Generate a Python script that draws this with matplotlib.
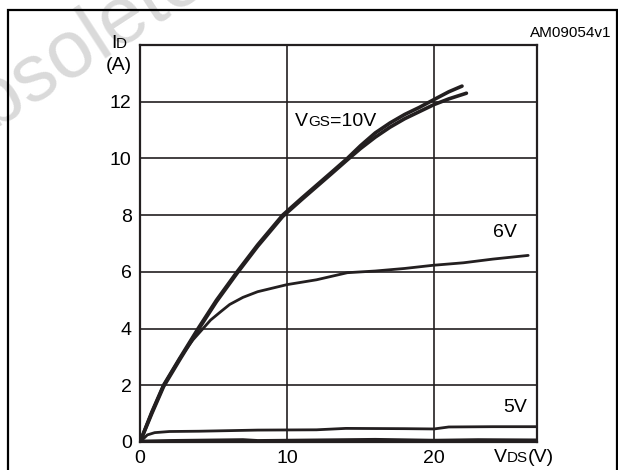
import matplotlib
matplotlib.use('Agg')
import matplotlib.pyplot as plt
import matplotlib.patches as patches
from matplotlib.offsetbox import TextArea, HPacker, AnnotationBbox

plt.rcParams['font.family'] = ['Liberation Sans', 'DejaVu Sans']

# Кривые выходной характеристики (VDS, ID)
vds_10a = [0, 0.8, 1.6, 2.7, 3.95, 5.2, 6.6, 8.0, 9.7, 11.0, 12.0, 13.0, 14.1, 15.0, 16.0,
           17.0, 18.0, 19.0, 19.9, 21.0, 21.9]
id_10a = [0, 1.05, 2.0, 2.95, 4.0, 5.0, 6.0, 6.95, 8.0, 8.6, 9.05, 9.5, 10.0, 10.45, 10.9,
          11.25, 11.55, 11.8, 12.05, 12.35, 12.55]
vds_10b = [0, 0.8, 1.6, 2.7, 3.95, 5.2, 6.6, 8.0, 9.7, 11.0, 12.0, 13.0, 14.1, 15.0, 16.0,
           17.0, 18.0, 19.0, 20.0, 21.0, 22.2]
id_10b = [0, 1.0, 1.95, 2.9, 3.95, 4.95, 5.95, 6.9, 7.95, 8.55, 9.0, 9.45, 9.95, 10.35, 10.75,
          11.1, 11.4, 11.65, 11.9, 12.1, 12.3]
vds_6 = [0, 0.8, 1.6, 2.7, 3.6, 4.2, 4.8, 5.5, 6.1, 7.0, 8.0, 10.0, 12.0, 14.1, 16.0, 18.0,
         19.9, 22.0, 24.0, 26.4]
id_6 = [0, 1.05, 2.0, 2.95, 3.6, 3.95, 4.3, 4.6, 4.85, 5.1, 5.3, 5.55, 5.72, 5.97, 6.03, 6.12,
        6.23, 6.32, 6.45, 6.58]
vds_5 = [0, 0.5, 1.0, 2.0, 4.0, 6.0, 8.0, 12.0, 14.0, 18.0, 20.0, 21.0, 24.0, 27.0]
id_5 = [0, 0.25, 0.33, 0.37, 0.38, 0.40, 0.42, 0.43, 0.48, 0.47, 0.46, 0.53, 0.54, 0.54]
vds_4 = [0, 2, 7, 8, 12, 16, 20, 23, 27]
id_4 = [0, 0.02, 0.05, 0.02, 0.04, 0.06, 0.03, 0.05, 0.04]

xticks = [0, 10, 20]
yticks = [0, 2, 4, 6, 8, 10, 12]

ink = '#231f20'

fig = plt.figure(figsize=(6.18, 4.70), dpi=100)

# Водяной знак
fig.text(-60 / 618, 1 - 163 / 470, 'Obsolete',
         rotation=33, rotation_mode='anchor', ha='left', va='baseline',
         fontsize=58, color='#dadada', zorder=0)

# Внешняя рамка
fig.patches.append(patches.Rectangle((8 / 618, -0.1), 609 / 618, 1.1 - 10 / 470,
                                     transform=fig.transFigure, fill=False,
                                     edgecolor='black', linewidth=1.6, zorder=1))

ax = fig.add_axes([140 / 618, 28 / 470, 397 / 618, 397 / 470])
ax.set_facecolor('none')
ax.set_xlim(0, 27)
ax.set_ylim(0, 14)

ax.set_xticks(xticks)
ax.set_yticks(yticks)
ax.tick_params(length=0, labelsize=14, colors='black', pad=6)
ax.grid(True, color=ink, linewidth=1.2)
for s in ax.spines.values():
    s.set_color(ink)
    s.set_linewidth(1.6)

ax.plot(vds_10a, id_10a, color=ink, lw=2.6, solid_capstyle='round', zorder=5)
ax.plot(vds_10b, id_10b, color=ink, lw=2.6, solid_capstyle='round', zorder=5)
ax.plot(vds_6, id_6, color=ink, lw=2.0, solid_capstyle='round', zorder=5)
ax.plot(vds_5, id_5, color=ink, lw=2.0, solid_capstyle='round', zorder=5)
ax.plot(vds_4, id_4, color=ink, lw=3.4, solid_capstyle='round', zorder=5)


def label(parts, xy, coords, align):
    kids = [TextArea(t, textprops=dict(fontsize=fs, color='black')) for t, fs in parts]
    box = HPacker(children=kids, align='baseline', pad=0, sep=0)
    ab = AnnotationBbox(box, xy, xycoords=coords, frameon=False,
                        box_alignment=align, annotation_clip=False, zorder=6)
    if coords == 'data':
        ax.add_artist(ab)
    else:
        fig.add_artist(ab)


label([('V', 14), ('GS', 11), ('=10V', 14)], (10.55, 11.3), 'data', (0, 0.5))
ax.text(24.8, 7.4, '6V', fontsize=14, ha='center', va='center')
ax.text(25.5, 1.2, '5V', fontsize=14, ha='center', va='center')

label([('V', 14), ('DS', 11), ('(V)', 14)], (524 / 618, 1 - 458 / 470), 'figure fraction', (0.5, 0.5))
label([('I', 14), ('D', 11)], (119 / 618, 1 - 43 / 470), 'figure fraction', (0.5, 0.5))
fig.text(119 / 618, 1 - 65 / 470, '(A)', fontsize=14, ha='center', va='center')
fig.text(611 / 618, 1 - 33 / 470, 'AM09054v1', fontsize=11, ha='right', va='center')

fig.savefig('out.png', dpi=100)
plt.close(fig)
